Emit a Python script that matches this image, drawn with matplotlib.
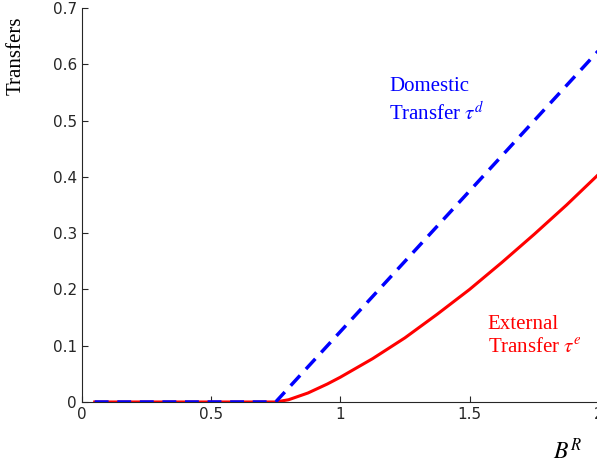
import matplotlib
matplotlib.use("Agg")
import matplotlib.pyplot as plt

plt.rcParams["mathtext.fontset"] = "stix"

dom_x = [0.05, 0.75, 2.0]
dom_y = [0.0, 0.0, 0.625]

ext_x = [0.05, 0.75, 0.8, 0.875, 0.95, 1.0, 1.125, 1.25, 1.375, 1.5, 1.625, 1.75, 1.875, 2.0]
ext_y = [0.0, 0.0, 0.004, 0.016, 0.032, 0.044, 0.077, 0.114, 0.156, 0.200, 0.248, 0.298, 0.350, 0.405]

fig = plt.figure(figsize=(5.97, 4.65), dpi=100)
ax = fig.add_axes([0.137, 0.1355, 0.866, 0.847])

ax.plot(ext_x, ext_y, color="red", linewidth=2.2)
ax.plot(dom_x, dom_y, color="blue", linewidth=2.5, linestyle=(0, (4, 2.5)))

ax.set_xlim(0, 2)
ax.set_ylim(0, 0.7)
ax.set_xticks([0, 0.5, 1, 1.5, 2])
ax.set_xticklabels(["0", "0.5", "1", "1.5", "2"])
ax.set_yticks([0, 0.1, 0.2, 0.3, 0.4, 0.5, 0.6, 0.7])
ax.set_yticklabels(["0", "0.1", "0.2", "0.3", "0.4", "0.5", "0.6", "0.7"])
ax.tick_params(direction="in", labelsize=11, colors="#262626", length=4)
ax.spines["top"].set_visible(False)
ax.spines["right"].set_visible(False)
for s in ("left", "bottom"):
    ax.spines[s].set_color("#262626")

ax.set_ylabel("Transfers", fontsize=15, family="Liberation Serif")
ax.yaxis.set_label_coords(-0.108, 0.88)
ax.text(1.88, -0.088, "$B^R$", fontsize=17, ha="center", va="center")

ax.text(1.19, 0.535, "Domestic\nTransfer $\\tau^d$", color="blue", fontsize=15,
        family="Liberation Serif", va="center", linespacing=1.3)
ax.text(1.57, 0.117, "External\nTransfer $\\tau^e$", color="red", fontsize=15,
        family="Liberation Serif", va="center", linespacing=1.3)

fig.savefig("out.png", dpi=100)
